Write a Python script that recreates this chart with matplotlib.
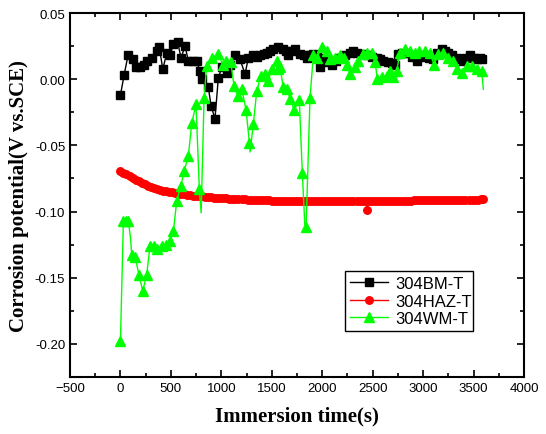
import numpy as np
import matplotlib
matplotlib.use('Agg')
import matplotlib.pyplot as plt
from matplotlib.ticker import MultipleLocator

# 304BM-T (black squares)
bm_t = [0, 36, 75, 125, 155, 195, 230, 260, 310, 360, 385, 420, 460, 490, 525,
        568, 600, 640, 673, 723, 756, 789, 812, 871, 898, 937, 970, 1004, 1053,
        1086, 1136, 1185, 1235, 1268, 1317, 1350, 1384, 1420, 1450, 1485, 1516,
        1565, 1612, 1640, 1664, 1700, 1730, 1780, 1815, 1846, 1880, 1912, 1945,
        1978, 2028, 2060, 2094, 2135, 2177, 2225, 2276, 2310, 2342, 2390, 2441,
        2490, 2540, 2575, 2606, 2655, 2690, 2722, 2754, 2795, 2837, 2885, 2936,
        2975, 3019, 3060, 3101, 3140, 3184, 3215, 3250, 3290, 3333, 3365, 3398,
        3430, 3465, 3500, 3531, 3560, 3587]
bm_v = [-0.012, 0.003, 0.018, 0.015, 0.009, 0.009, 0.011, 0.014, 0.016, 0.021,
        0.024, 0.0076, 0.020, 0.018, 0.0265, 0.028, 0.016, 0.025, 0.014, 0.014,
        0.014, 0.006, 0.0, -0.006, -0.020, -0.030, 0.0008, 0.009, 0.005, 0.011,
        0.018, 0.015, 0.004, 0.016, 0.018, 0.017, 0.018, 0.019, 0.020, 0.021,
        0.023, 0.024, 0.023, 0.021, 0.018, 0.021, 0.023, 0.019, 0.018, 0.016,
        0.018, 0.019, 0.017, 0.009, 0.016, 0.013, 0.011, 0.014, 0.016, 0.018,
        0.020, 0.021, 0.020, 0.019, 0.018, 0.017, 0.016, 0.015, 0.014, 0.013,
        0.012, 0.011, 0.019, 0.020, 0.020, 0.017, 0.014, 0.017, 0.018, 0.016,
        0.015, 0.020, 0.023, 0.021, 0.020, 0.018, 0.016, 0.015, 0.014, 0.016,
        0.018, 0.016, 0.015, 0.016, 0.015]

# 304HAZ-T (red circles)
haz_t = [0, 30, 60, 90, 120, 150, 180, 210, 240, 270, 300, 330, 360, 390, 420,
         450, 480, 510, 540, 570, 600, 630, 660, 690, 720, 750, 780, 810, 840,
         870, 900, 930, 960, 990, 1020, 1050, 1080, 1110, 1140, 1170, 1200,
         1230, 1260, 1290, 1320, 1350, 1380, 1410, 1440, 1470, 1500, 1530, 1560,
         1590, 1620, 1650, 1680, 1710, 1740, 1770, 1800, 1830, 1860, 1890, 1920,
         1950, 1980, 2010, 2040, 2070, 2100, 2130, 2160, 2190, 2220, 2250, 2280,
         2310, 2340, 2370, 2400, 2430, 2445, 2460, 2490, 2520, 2550, 2580, 2610,
         2640, 2670, 2700, 2730, 2760, 2790, 2820, 2850, 2880, 2910, 2940, 2970,
         3000, 3030, 3060, 3090, 3120, 3150, 3180, 3210, 3240, 3270, 3300, 3330,
         3360, 3390, 3420, 3450, 3480, 3510, 3540, 3570, 3590]
haz_v = [-0.0695, -0.0707, -0.0720, -0.0734, -0.0748, -0.0760, -0.0772, -0.0784,
         -0.0795, -0.0804, -0.0812, -0.0820, -0.0828, -0.0835, -0.0842, -0.0847,
         -0.0852, -0.0856, -0.0860, -0.0864, -0.0867, -0.0870, -0.0873, -0.0876,
         -0.0879, -0.0882, -0.0884, -0.0886, -0.0888, -0.0890, -0.0892, -0.0894,
         -0.0896, -0.0898, -0.0899, -0.0901, -0.0902, -0.0904, -0.0905, -0.0906,
         -0.0907, -0.0908, -0.0909, -0.0910, -0.0911, -0.0912, -0.0913, -0.0914,
         -0.0915, -0.0916, -0.0917, -0.0918, -0.0918, -0.0919, -0.0919, -0.0920,
         -0.0920, -0.0920, -0.0921, -0.0921, -0.0921, -0.0921, -0.0922, -0.0922,
         -0.0922, -0.0922, -0.0922, -0.0922, -0.0922, -0.0922, -0.0922, -0.0922,
         -0.0922, -0.0922, -0.0922, -0.0922, -0.0922, -0.0922, -0.0922, -0.0922,
         -0.0922, -0.0922, -0.0990, -0.0921, -0.0921, -0.0921, -0.0920, -0.0920,
         -0.0920, -0.0919, -0.0919, -0.0919, -0.0918, -0.0918, -0.0918, -0.0917,
         -0.0917, -0.0917, -0.0916, -0.0916, -0.0916, -0.0915, -0.0915, -0.0914,
         -0.0914, -0.0913, -0.0913, -0.0912, -0.0912, -0.0912, -0.0911, -0.0911,
         -0.0910, -0.0910, -0.0910, -0.0910, -0.0909, -0.0909, -0.0909, -0.0909,
         -0.0908, -0.0908]

# 304WM-T (green triangles); spike points listed in wm_unmarked carry no marker
wm_t = [0, 29, 55, 78, 100, 112, 145, 184, 221, 260, 293, 333, 366, 409, 452,
        491, 525, 558, 597, 633, 673, 707, 749, 782, 800, 829, 855, 905, 970,
        1014, 1047, 1093, 1126, 1162, 1202, 1245, 1278, 1285, 1317, 1351, 1391,
        1433, 1466, 1499, 1549, 1565, 1582, 1614, 1654, 1681, 1721, 1773, 1803,
        1830, 1840, 1879, 1912, 1945, 1995, 2045, 2078, 2127, 2177, 2216, 2243,
        2276, 2325, 2358, 2401, 2441, 2491, 2524, 2547, 2590, 2639, 2672, 2705,
        2738, 2771, 2820, 2870, 2920, 2963, 3019, 3068, 3108, 3151, 3200, 3250,
        3300, 3333, 3382, 3432, 3482, 3531, 3581, 3597]
wm_v = [-0.198, -0.107, -0.107, -0.107, -0.120, -0.133, -0.134, -0.148, -0.160,
        -0.148, -0.126, -0.126, -0.128, -0.126, -0.125, -0.1225, -0.115, -0.092,
        -0.081, -0.069, -0.058, -0.033, -0.019, -0.083, -0.101, -0.014, 0.010,
        0.016, 0.019, 0.011, 0.014, 0.013, -0.005, -0.0126, -0.0076, -0.023,
        -0.048, -0.055, -0.034, -0.009, 0.0025, 0.004, -0.001, 0.0076, 0.014,
        0.0076, 0.009, -0.006, -0.0076, -0.015, -0.023, -0.016, -0.071, -0.114,
        -0.112, -0.014, 0.018, 0.016, 0.024, 0.021, 0.015, 0.016, 0.018, 0.016,
        0.011, 0.004, 0.009, 0.014, 0.019, 0.020, 0.020, 0.013, 0.0, 0.0013,
        0.0025, 0.006, 0.0013, 0.006, 0.020, 0.023, 0.021, 0.020, 0.021, 0.021,
        0.020, 0.011, 0.019, 0.020, 0.016, 0.014, 0.0076, 0.005, 0.010, 0.010,
        0.0076, 0.006, -0.0076]
wm_unmarked = [100, 800, 1285, 1830, 3597]
wm_mark = [t not in wm_unmarked for t in wm_t]

fig = plt.figure(figsize=(5.46, 4.35), dpi=100)
ax = fig.add_axes([0.1282, 0.131, 0.8315, 0.8368])

ax.plot(bm_t, bm_v, color='black', marker='s', markersize=6.0, linewidth=1.0,
        label='304BM-T')
ax.plot(haz_t, haz_v, color='red', marker='o', markersize=5.4, linewidth=1.0,
        label='304HAZ-T')
ax.plot(wm_t, wm_v, color='#00ff00', marker='^', markersize=7.0, linewidth=1.0,
        markevery=wm_mark, label='304WM-T')

ax.set_xlim(-500, 4000)
ax.set_ylim(-0.225, 0.05)
ax.xaxis.set_major_locator(MultipleLocator(500))
ax.xaxis.set_minor_locator(MultipleLocator(250))
ax.yaxis.set_major_locator(MultipleLocator(0.05))
ax.yaxis.set_minor_locator(MultipleLocator(0.025))
ax.yaxis.set_major_formatter(plt.FuncFormatter(lambda v, p: f'{v:.2f}'))

ax.tick_params(which='both', direction='in', top=True, right=True,
               labeltop=False, labelright=False)
ax.tick_params(which='major', length=5, width=1.2)
ax.tick_params(which='minor', length=3, width=1.2)
for lab in ax.get_xticklabels() + ax.get_yticklabels():
    lab.set_fontfamily('Liberation Sans')
    lab.set_fontsize(9.5)
for sp in ax.spines.values():
    sp.set_linewidth(1.5)

ax.set_xlabel('Immersion time(s)', fontfamily='Liberation Serif',
              fontweight='bold', fontsize=15, labelpad=8)
ax.set_ylabel('Corrosion potential(V vs.SCE)', fontfamily='Liberation Serif',
              fontweight='bold', fontsize=15, labelpad=4)

leg = ax.legend(loc='lower left', bbox_to_anchor=(0.606, 0.1255, 0.282, 0.194),
                mode='expand', prop={'family': 'Liberation Sans', 'size': 12},
                fancybox=False, edgecolor='black', framealpha=1,
                handlelength=2.3, borderpad=0.3, labelspacing=0.15,
                handletextpad=0.4, borderaxespad=0)
leg.get_frame().set_linewidth(1.0)

fig.savefig('out.png', dpi=100)
